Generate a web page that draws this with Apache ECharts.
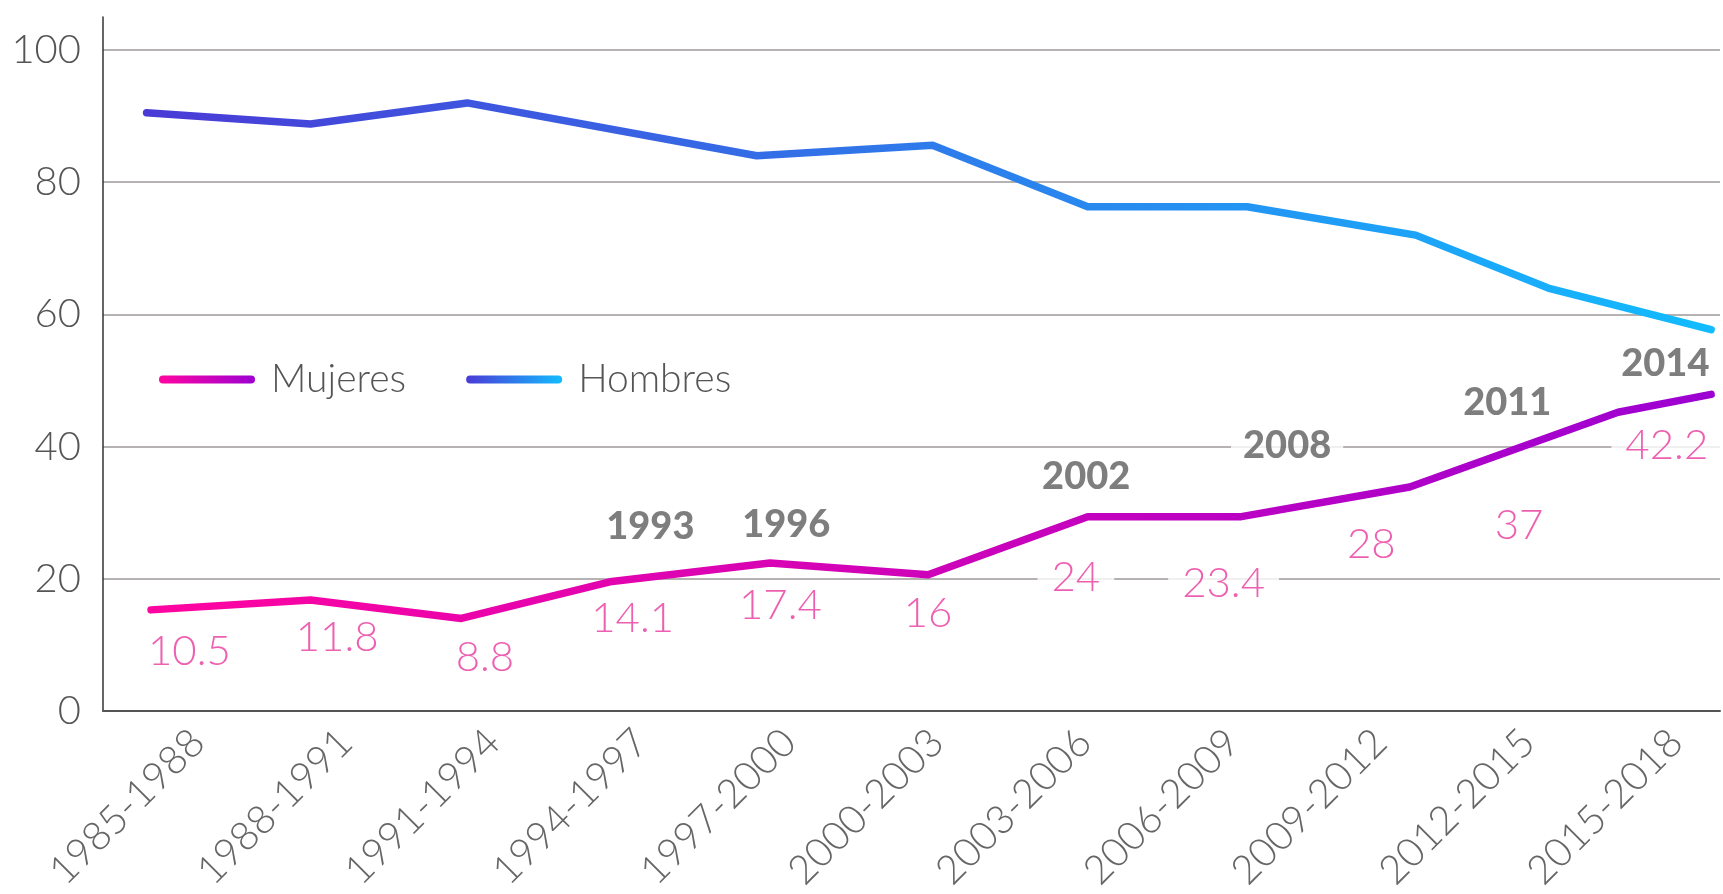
<!DOCTYPE html>
<html>
<head>
<meta charset="utf-8">
<script src="https://cdn.jsdelivr.net/npm/echarts@6/dist/echarts.min.js"></script>
<style>
  html, body { margin: 0; padding: 0; background: #fff; }
  #chart { width: 1723px; height: 894px; }
</style>
</head>
<body>
<div id="chart"></div>
<script>
// periodos legislativos (eje x)
const periodos = ['1985-1988', '1988-1991', '1991-1994', '1994-1997', '1997-2000', '2000-2003',
  '2003-2006', '2006-2009', '2009-2012', '2012-2015', '2015-2018'];

// lineas: posicion en unidades de periodo + valor
const mujeresX = [-0.26, 0.82, 1.84, 2.86, 3.93, 5.00, 6.08, 7.12, 8.26, 9.67, 10.30];
const mujeresY = [15.3, 16.8, 14.0, 19.6, 22.4, 20.6, 29.4, 29.4, 33.9, 45.2, 47.9];
const hombresX = [-0.29, 0.82, 1.88, 3.84, 5.03, 6.08, 7.16, 8.30, 9.21, 10.30];
const hombresY = [90.5, 88.8, 92.0, 84.0, 85.6, 76.3, 76.3, 72.0, 63.9, 57.7];

// porcentaje de mujeres por periodo (etiquetas rosas) y altura de cada etiqueta
const porcentajes = ['10.5', '11.8', '8.8', '14.1', '17.4', '16', '24', '23.4', '28', '37', '42.2'];
const porcentajesY = [9.0, 11.1, 8.1, 14.0, 16.0, 14.8, 20.2, 19.3, 25.2, 28.1, 40.2];

// años de reforma
const reformas = ['1993', '1996', '2002', '2008', '2011', '2014'];
const reformasX = [3.12, 4.04, 6.07, 7.43, 8.92, 9.99];
const reformasY = [27.9, 28.2, 35.5, 40.2, 46.7, 52.5];

const yTicks = [0, 20, 40, 60, 80, 100];

const FONT = 'Lato';
const grad = (a, b) => new echarts.graphic.LinearGradient(0, 0, 1, 0, [
  { offset: 0, color: a }, { offset: 1, color: b }
]);
const rosa = () => grad('#ff05a0', '#9c00d2');
const azul = () => grad('#4a3ad6', '#12bcff');
const pill = 'path://M4,0L92,0A4,4,0,0,1,92,8L4,8A4,4,0,0,1,4,0Z';

var myChart = echarts.init(document.getElementById('chart'));

myChart.setOption({
  animation: false,
  grid: [
    { left: 103, right: 3, top: 17, bottom: 183 },
    { left: 198, right: 47, top: 17, bottom: 183 }
  ],
  legend: {
    left: 154,
    top: 355,
    itemWidth: 96,
    itemHeight: 8,
    itemGap: 60,
    data: [
      { name: 'Mujeres', icon: pill, itemStyle: { color: rosa() } },
      { name: 'Hombres', icon: pill, itemStyle: { color: azul() } }
    ],
    textStyle: { fontFamily: FONT, fontWeight: 300, fontSize: 39, color: '#555', padding: [0, 0, 0, 11] }
  },
  xAxis: [
    {
      type: 'value', gridIndex: 0, min: -0.585, max: 10.36,
      axisLine: { show: true, onZero: false, lineStyle: { color: '#555', width: 2 } },
      axisTick: { show: false }, axisLabel: { show: false }, splitLine: { show: false }
    },
    {
      type: 'category', gridIndex: 1, data: periodos, boundaryGap: false,
      axisLine: { show: false }, axisTick: { show: false }, splitLine: { show: false },
      axisLabel: {
        rotate: 45, margin: 30, interval: 0,
        fontFamily: FONT, fontWeight: 300, fontSize: 40, color: '#666'
      }
    }
  ],
  yAxis: [
    {
      type: 'value', gridIndex: 0, min: 0, max: 105, interval: 20,
      axisLine: { show: true, onZero: false, lineStyle: { color: '#333', width: 1.5 } },
      axisTick: { show: false },
      axisLabel: {
        margin: 22, fontFamily: FONT, fontWeight: 300, fontSize: 40, color: '#555',
        formatter: v => (yTicks.indexOf(v) >= 0 ? String(v) : '')
      },
      splitLine: { show: true, showMaxLine: false, lineStyle: { color: '#9e9999', width: 1.5 } }
    },
    {
      type: 'value', gridIndex: 1, min: 0, max: 105, show: false,
      axisLine: { show: false }, axisTick: { show: false },
      axisLabel: { show: false }, splitLine: { show: false }
    }
  ],
  series: [
    {
      name: 'Mujeres', type: 'line', xAxisIndex: 0, yAxisIndex: 0, z: 4,
      showSymbol: false, symbol: 'none',
      data: mujeresX.map((x, i) => [x, mujeresY[i]]),
      lineStyle: { width: 7.5, cap: 'round', join: 'round', color: rosa() }
    },
    {
      name: 'Hombres', type: 'line', xAxisIndex: 0, yAxisIndex: 0, z: 4,
      showSymbol: false, symbol: 'none',
      data: hombresX.map((x, i) => [x, hombresY[i]]),
      lineStyle: { width: 7.5, cap: 'round', join: 'round', color: azul() }
    },
    {
      name: 'porcentajes', type: 'scatter', xAxisIndex: 0, yAxisIndex: 0, z: 3,
      symbolSize: 1, itemStyle: { color: 'rgba(0,0,0,0)' }, silent: true,
      data: porcentajes.map((t, i) => [i, porcentajesY[i], t]),
      label: {
        show: true, position: 'inside', formatter: p => p.value[2],
        fontFamily: FONT, fontWeight: 300, fontSize: 42, color: '#e8389e',
        backgroundColor: '#fff', padding: [0, 14]
      }
    },
    {
      name: 'reformas', type: 'scatter', xAxisIndex: 0, yAxisIndex: 0, z: 3,
      symbolSize: 1, itemStyle: { color: 'rgba(0,0,0,0)' }, silent: true,
      data: reformas.map((t, i) => [reformasX[i], reformasY[i], t]),
      label: {
        show: true, position: 'inside', formatter: p => p.value[2],
        fontFamily: FONT, fontWeight: 900, fontSize: 38, color: '#5e5e5e',
        backgroundColor: '#fff', padding: [0, 12]
      }
    }
  ]
});
</script>
</body>
</html>
